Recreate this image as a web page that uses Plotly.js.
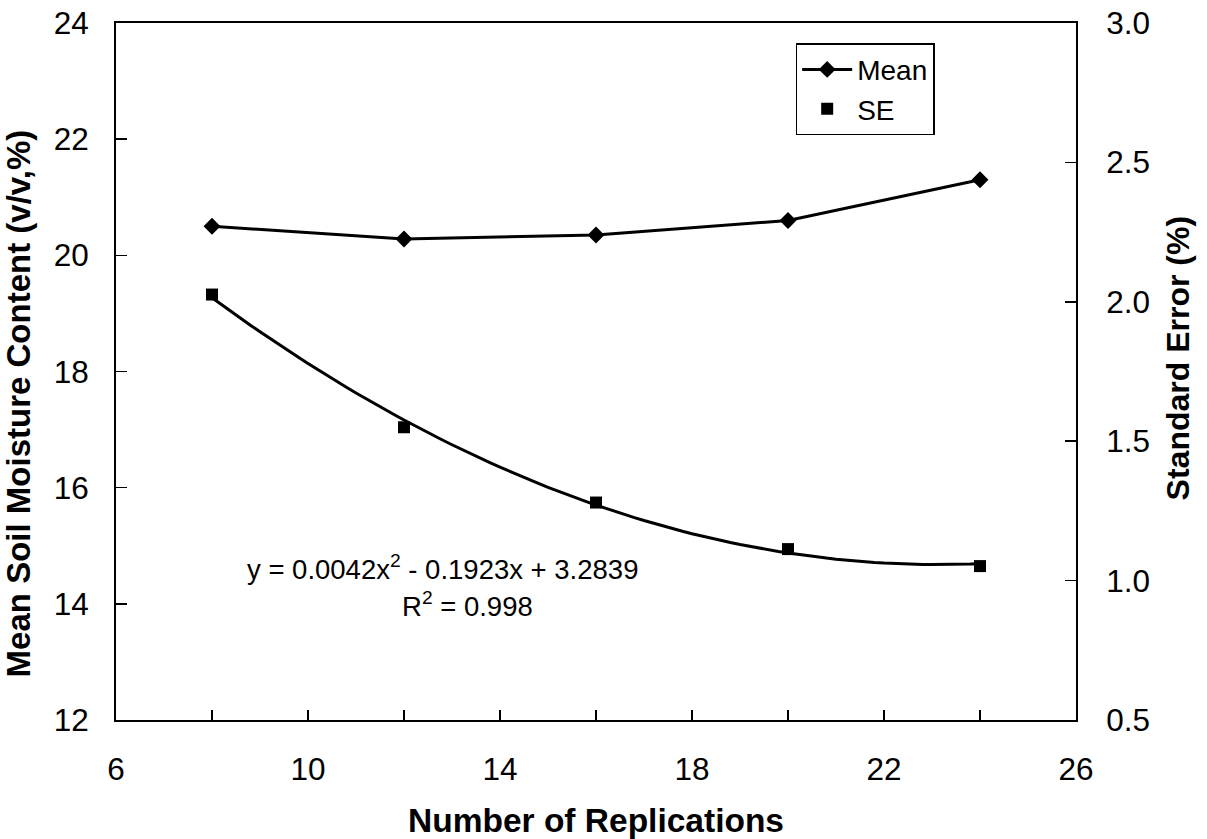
<!DOCTYPE html>
<html>
<head>
<meta charset="utf-8">
<script src="https://cdn.plot.ly/plotly-3.0.1.min.js"></script>
<style>html,body{margin:0;padding:0;background:#fff;}#chart{width:1207px;height:839px;}</style>
</head>
<body>
<div id="chart"></div>
<script>
// Data
const replications = [8, 12, 16, 20, 24];
const meanMoisture = [20.5, 20.28, 20.35, 20.6, 21.3];
const standardError = [2.026, 1.55, 1.28, 1.113, 1.052];
const xTickVals = [6, 10, 14, 18, 22, 26];
const yTickVals = [12, 14, 16, 18, 20, 22, 24];
const y2TickVals = [0.5, 1.0, 1.5, 2.0, 2.5, 3.0];
const y2TickText = ['0.5', '1.0', '1.5', '2.0', '2.5', '3.0'];
const equationText = 'y = 0.0042x<sup>2</sup> - 0.1923x + 3.2839';
const r2Text = 'R<sup>2</sup> = 0.998';

// Polynomial (order 2) least-squares trendline of SE, as in the original spreadsheet trendline
function quadFit(xs, ys) {
  let n = xs.length, s = [0,0,0,0,0], t = [0,0,0];
  for (let i = 0; i < n; i++) {
    let p = 1;
    for (let k = 0; k < 5; k++) { s[k] += p; if (k < 3) t[k] += p * ys[i]; p *= xs[i]; }
  }
  const A = [[s[0], s[1], s[2]], [s[1], s[2], s[3]], [s[2], s[3], s[4]]];
  const det = m => m[0][0]*(m[1][1]*m[2][2]-m[1][2]*m[2][1]) - m[0][1]*(m[1][0]*m[2][2]-m[1][2]*m[2][0]) + m[0][2]*(m[1][0]*m[2][1]-m[1][1]*m[2][0]);
  const D = det(A);
  const c = [];
  for (let j = 0; j < 3; j++) {
    const M = A.map((row, r) => row.map((v, col) => col === j ? t[r] : v));
    c.push(det(M) / D);
  }
  return c;
}
const coef = quadFit(replications, standardError);
const fitX = [], fitY = [];
for (let x = replications[0]; x <= replications[replications.length - 1] + 1e-9; x += 0.2) {
  fitX.push(x); fitY.push(coef[0] + coef[1] * x + coef[2] * x * x);
}

const FONT = 'Liberation Sans, Arial, sans-serif';
const NB = '&nbsp;'.repeat(7);
const NB2 = '&nbsp;'.repeat(3);

const traces = [
  {
    x: replications, y: meanMoisture, name: 'Mean', type: 'scatter', mode: 'lines+markers',
    line: {color: '#000', width: 3}, marker: {symbol: 'diamond', size: 13, color: '#000'},
    xaxis: 'x', yaxis: 'y'
  },
  {
    x: replications, y: standardError, name: 'SE', type: 'scatter', mode: 'markers',
    marker: {symbol: 'square', size: 12, color: '#000'}, xaxis: 'x', yaxis: 'y2'
  },
  {
    x: fitX, y: fitY, name: 'Poly. (SE)', type: 'scatter', mode: 'lines', showlegend: false,
    line: {color: '#000', width: 3}, xaxis: 'x', yaxis: 'y2', hoverinfo: 'skip'
  }
];

const layout = {
  width: 1207, height: 839,
  margin: {l: 116, r: 131, t: 23, b: 119, pad: 0},
  paper_bgcolor: '#fff', plot_bgcolor: '#fff',
  font: {family: FONT, size: 30, color: '#000'},
  showlegend: true,
  legend: {
    x: 0.708, y: 0.971, xanchor: 'left', yanchor: 'top',
    bordercolor: '#000', borderwidth: 1.5, bgcolor: '#fff',
    font: {family: FONT, size: 28, color: '#000'}, itemwidth: 50, tracegroupgap: 0
  },
  xaxis: {
    range: [6, 26], tickvals: xTickVals, ticks: 'inside', ticklen: 10, tickwidth: 1.5, tickcolor: '#000',
    showline: true, linecolor: '#000', linewidth: 2, mirror: true, showgrid: false, zeroline: false,
    tickfont: {family: FONT, size: 31.5, color: '#000'}, ticklabelstandoff: 20,
    minor: {dtick: 2, tick0: 6, ticks: 'inside', ticklen: 10, tickwidth: 1.5, tickcolor: '#000', showgrid: false},
    title: {text: '<b>Number of Replications</b>', font: {family: FONT, size: 33.5, color: '#000'}, standoff: 28}
  },
  yaxis: {
    range: [12, 24], tickvals: yTickVals, ticks: 'inside', ticklen: 11, tickwidth: 1.5, tickcolor: '#000',
    showline: true, linecolor: '#000', linewidth: 2, showgrid: false, zeroline: false,
    tickfont: {family: FONT, size: 31.5, color: '#000'}, ticklabelstandoff: 19,
    title: {text: '<b>Mean Soil Moisture Content (v/v,%)' + NB + '</b>', font: {family: FONT, size: 33, color: '#000'}, standoff: 14}
  },
  yaxis2: {
    range: [0.5, 3.0], tickvals: y2TickVals, ticktext: y2TickText, overlaying: 'y', side: 'right',
    ticks: 'inside', ticklen: 11, tickwidth: 1.5, tickcolor: '#000',
    showline: true, linecolor: '#000', linewidth: 2, showgrid: false, zeroline: false,
    tickfont: {family: FONT, size: 31.5, color: '#000'}, ticklabelstandoff: 22,
    title: {text: '<b>' + NB2 + 'Standard Error (%)</b>', font: {family: FONT, size: 32, color: '#000'}, standoff: 18}
  },
  annotations: [
    {text: equationText, xref: 'x', yref: 'y', x: 12.81, y: 14.62, showarrow: false,
     xanchor: 'center', yanchor: 'middle', font: {family: FONT, size: 27.5, color: '#000'}},
    {text: r2Text, xref: 'x', yref: 'y', x: 13.33, y: 13.98, showarrow: false,
     xanchor: 'center', yanchor: 'middle', font: {family: FONT, size: 27.5, color: '#000'}}
  ]
};

Plotly.newPlot('chart', traces, layout, {displayModeBar: false, staticPlot: true});
</script>
</body>
</html>
